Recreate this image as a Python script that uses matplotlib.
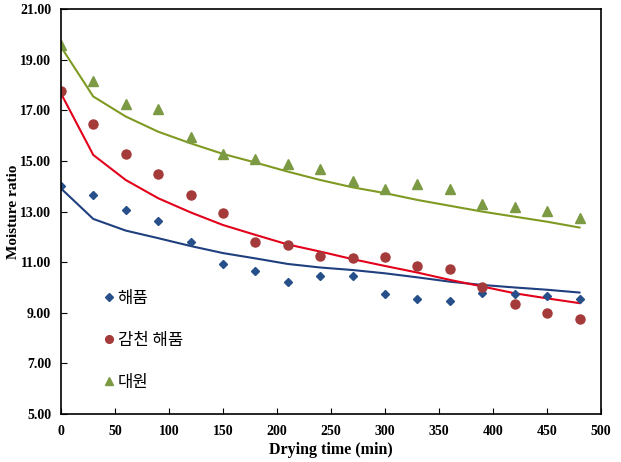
import matplotlib
matplotlib.use("Agg")
import matplotlib.pyplot as plt
import numpy as np

# drying time (min)
time = [0, 30, 60, 90, 120, 150, 180, 210, 240, 270, 300, 330, 360, 390, 420, 450, 480]

# measured points
haepum = [14.03, 13.66, 13.07, 12.63, 11.81, 10.93, 10.66, 10.22, 10.44, 10.46,
          9.73, 9.54, 9.47, 9.77, 9.75, 9.68, 9.55]
gamcheon = [17.78, 16.48, 15.27, 14.48, 13.65, 12.96, 11.78, 11.66, 11.25, 11.17,
            11.21, 10.84, 10.74, 10.00, 9.34, 8.98, 8.75]
daewon = [19.59, 18.18, 17.27, 17.07, 15.96, 15.28, 15.08, 14.88, 14.69, 14.19,
          13.89, 14.09, 13.90, 13.30, 13.20, 13.01, 12.75]

# model (fitted) curves
haepum_fit = [13.92, 12.71, 12.25, 11.95, 11.64, 11.36, 11.15, 10.93, 10.79, 10.69,
              10.56, 10.40, 10.23, 10.10, 10.00, 9.91, 9.80]
gamcheon_fit = [17.68, 15.24, 14.25, 13.53, 12.97, 12.47, 12.08, 11.70, 11.42, 11.12,
                10.85, 10.59, 10.30, 10.04, 9.77, 9.57, 9.38]
daewon_fit = [19.52, 17.55, 16.76, 16.16, 15.70, 15.28, 14.94, 14.58, 14.25, 13.96,
              13.73, 13.46, 13.23, 13.00, 12.80, 12.60, 12.37]

fig = plt.figure(figsize=(6.21, 4.62), dpi=100)
ax = fig.add_axes([0.098, 0.104, 0.870, 0.876])

ax.plot(time, haepum_fit, color='#1f3f7f', lw=1.5)
ax.plot(time, gamcheon_fit, color='#e2001a', lw=1.5)
ax.plot(time, daewon_fit, color='#7f9a22', lw=1.5)

ax.plot(time, haepum, 'D', color='#27508a', ms=4.5, ls='none', label='해품')
ax.plot(time, gamcheon, 'o', color='#a43a3a', ms=6.5, ls='none', label='감천 해품')
ax.plot(time, daewon, '^', color='#7b9a43', ms=6.5, ls='none', label='대원')

ax.set_xlim(0, 500)
ax.set_ylim(5, 21)
ax.set_xticks(np.arange(0, 501, 50))
ax.set_yticks(np.arange(5, 21.1, 2))
ax.set_yticklabels(['%.2f' % v for v in np.arange(5, 21.1, 2)])
ax.tick_params(direction='in', length=4, width=0.8)
ax.tick_params(axis='y', pad=7)
ax.tick_params(axis='x', pad=8)
for lab in ax.get_xticklabels() + ax.get_yticklabels():
    lab.set_fontfamily('Liberation Serif')
    lab.set_fontweight('bold')
    lab.set_fontsize(10)
for s in ax.spines.values():
    s.set_linewidth(1.2)

ax.set_xlabel('Drying time (min)', fontfamily='Liberation Serif', fontweight='bold',
              fontsize=11.5, labelpad=3)
ax.set_ylabel('Moisture ratio', fontfamily='Liberation Serif', fontweight='bold',
              fontsize=11)
ax.yaxis.set_label_coords(-0.076, 0.5)

leg = ax.legend(loc='lower left', bbox_to_anchor=(0.045, 0.02), frameon=False,
                prop={'family': ['Noto Sans CJK KR', 'DejaVu Sans'], 'size': 12,
                      'weight': 'medium'},
                handletextpad=0.05, handlelength=1.0, labelspacing=1.5, markerscale=0.85)

fig.savefig('out.png', dpi=100)
